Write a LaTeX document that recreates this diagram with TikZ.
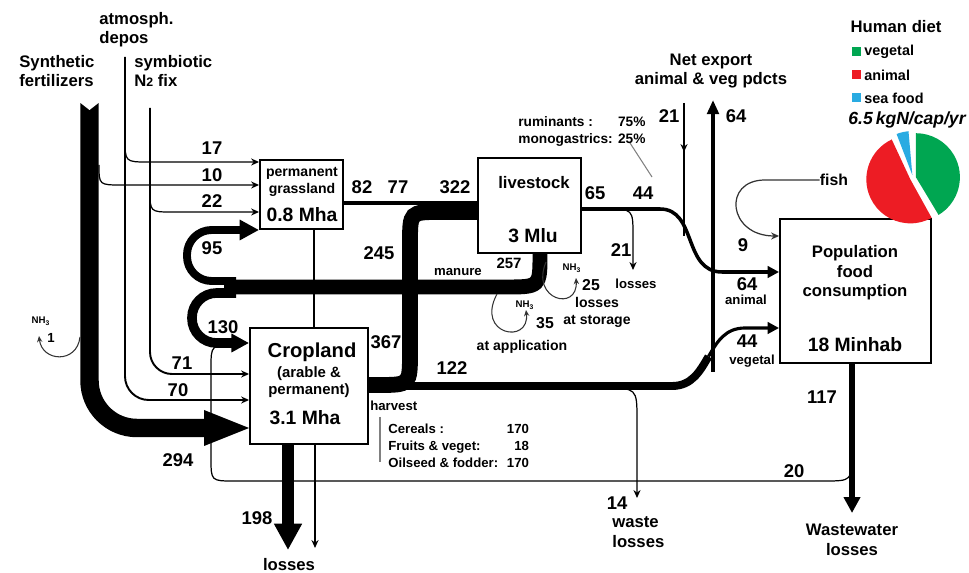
\documentclass[tikz,border=0pt]{standalone}
\usepackage{fontspec}
\setmainfont{Liberation Sans}
\usetikzlibrary{arrows.meta}
\definecolor{vegG}{RGB}{0,166,81}
\definecolor{animR}{RGB}{237,28,36}
\definecolor{seaB}{RGB}{41,171,226}
\begin{document}
\begin{tikzpicture}[x=0.02cm,y=-0.02cm]
\tikzset{
  lab/.style={font=\bfseries\fontsize{9.5}{11}\selectfont,inner sep=0pt,align=left},
  ctr/.style={lab,align=center},
  num/.style={font=\bfseries\fontsize{10.5}{12}\selectfont,inner sep=0pt},
  sml/.style={font=\bfseries\fontsize{7.5}{9.6}\selectfont,inner sep=0pt,align=center},
  tny/.style={font=\bfseries\fontsize{5.5}{6}\selectfont,inner sep=0pt},
  big/.style={font=\bfseries\fontsize{11}{13}\selectfont,inner sep=0pt},
  box/.style={draw,line width=1.1pt,fill=white,inner sep=0pt},
  fine/.style={line width=0.7pt},
  feed/.style={line width=1.1pt},
  loss/.style={line width=0.6pt,black!80,-{Stealth[length=3.5pt,width=3pt]}},
  tip/.style={-{Stealth[length=4.5pt,width=4pt]}},
  head/.style={-{Triangle[length=#1,width=#1]}}
}
\useasboundingbox (0,0) rectangle (969,573);

% boxes
\node[box,minimum width=1.66cm,minimum height=1.38cm] (grass) at (301.5,194.5) {};
\node[box,minimum width=2.36cm,minimum height=2.32cm] (crop) at (309,386) {};
\node[box,minimum width=2.06cm,minimum height=1.9cm] (stock) at (529.5,205.5) {};
\node[box,minimum width=3.02cm,minimum height=2.88cm] (pop) at (855.5,291) {};

\coordinate (synth) at (89.5,103);
\coordinate (atm) at (125,57);
\coordinate (sym) at (150,108);
\coordinate (exp) at (713,100);
\coordinate (imp) at (684,103);
\coordinate (pie) at (913,178);

% inputs
\draw[line width=10.5pt,rounded corners=27pt] (synth) -- (89.5,428) -- (208,428);
\fill[white] (78,101) -- (89.5,110) -- (101,101) -- cycle;
\fill (204,410) -- (crop.west |- 0,428) -- (204,446) -- cycle;
\draw[feed,tip,rounded corners=13.5pt] (atm) -- (125,400) -- (crop.west |- 0,400);
\draw[feed,tip,rounded corners=12.5pt] (sym) -- (150,374) -- (crop.west |- 0,374);
\draw[fine,tip] (125,138) .. controls (125,162) .. (148,162) -- (grass.west |- 0,162);
\draw[fine,tip] (99,165) .. controls (99,185) .. (122,185) -- (grass.west |- 0,185);
\draw[fine,tip] (150,190) .. controls (150,212) .. (172,212) -- (grass.west |- 0,212);
\draw[loss] (80,337) .. controls (77,364) and (42,362) .. (39,336);

% crops and grass
\draw[line width=1.3pt] (grass.south -| 314,0) -- (crop.north -| 314,0);
\draw[line width=1.2pt,tip] (crop.south -| 315,0) -- (315,548);
\draw[line width=6.8pt,head=15pt] (crop.south -| 288,0) -- (288,550);
\draw[line width=2.3pt] (grass.east |- 0,203) -- (stock.west |- 0,203);
\draw[line width=9pt] (crop.east |- 0,385) -- (378,385) .. controls (410,385) .. (410,352)
  -- (410,243) .. controls (410,212) .. (440,212) -- (stock.west |- 0,212);
\draw[line width=4.5pt] (crop.east |- 0,386) -- (672,386) .. controls (692,386) and (700,371) .. (708.5,356.5);
\draw[line width=1.8pt,head=6.5pt] (708.5,356.5) .. controls (717,342) and (725,328) .. (745,328) -- (pop.west |- 0,328);
\draw[fine,tip] (603,388) .. controls (637,388) .. (637,420) -- (637,498);

% manure
\draw[line width=8.5pt] (stock.south -| 540,0) .. controls (540,287) .. (505,287) -- (224,287);
\draw[line width=4.5pt,rounded corners=14pt,head=11pt] (236,281) -- (187,281) -- (187,230) -- (grass.west |- 0,230);
\draw[line width=5.5pt,rounded corners=14pt,head=10pt] (236,293) -- (192,293) -- (192,343) -- (crop.west |- 0,343);
\draw[loss] (546,262) .. controls (530,300) and (578,312) .. (576,278);
\draw[loss] (497,294) .. controls (475,335) and (530,345) .. (526,310);

% animal products and trade
\draw[line width=2pt,head=6.5pt] (stock.east |- 0,209) -- (660,209) .. controls (697,209) and (683,272) .. (722,272) -- (pop.west |- 0,272);
\draw[fine,tip] (606,209) .. controls (633,209) .. (633,236) -- (633,270);
\draw[line width=2.4pt,-{Triangle[length=8pt,width=6.5pt]}] (713,372) -- (exp);
\draw[feed,tip] (imp) -- (684,152);
\draw[feed] (684,150) -- (684,236);

% population
\draw[line width=3.4pt,head=9pt] (pop.south -| 852,0) -- (852,513);
\draw[line width=0.7pt] (852,452) .. controls (852,481) .. (824,481) -- (234,481)
  .. controls (211,481) .. (211,458) -- (211,368) .. controls (211,345) .. (236,345);
\node[font=\bfseries\fontsize{9}{10}\selectfont,inner sep=0pt] (fish) at (834,180) {fish};
\draw[fine,black!80,tip] (fish.west) -- (765,180) .. controls (722,180) and (728,236) .. (pop.west |- 0,236);
\draw[gray,line width=0.6pt] (630,143) -- (652,177);
\draw[gray,line width=0.8pt] (380,417) -- (380,462);

% box texts
\node[font=\bfseries\fontsize{8}{9.6}\selectfont,inner sep=0pt,align=center] (grassT) at (302,182) {permanent\\grassland};
\node[big] (grassA) at (302,215) {0.8 Mha};
\node[font=\bfseries\fontsize{11.5}{13}\selectfont,inner sep=0pt] (cropT) at (312,352) {Cropland};
\node[font=\bfseries\fontsize{8.5}{10}\selectfont,inner sep=0pt,align=center] (cropS) at (309,382) {(arable \&\\permanent)};
\node[big] (cropA) at (305,418) {3.1 Mha};
\node[lab] (stockT) at (534,183) {livestock};
\node[big] (stockA) at (533,236) {3 Mlu};
\node[ctr] (popT) at (855,273) {Population\\food\\consumption};
\node[big] (popA) at (855,345) {18 Minhab};

% sources and sinks
\node[lab,anchor=west] (atmT) at (99,30) {atmosph.\\depos};
\node[lab,anchor=west] (synT) at (19,71) {Synthetic\\fertilizers};
\node[lab,anchor=west] (symT) at (134,71) {symbiotic\\N{\fontsize{7}{7}\selectfont 2} fix};
\node[ctr] (netT) at (711,71) {Net export\\animal \& veg pdcts};
\node[lab] (lossT) at (289,565) {losses};
\node[lab,anchor=west] (wasteT) at (612,532) {waste\\losses};
\node[ctr] (wwT) at (852,540) {Wastewater\\losses};

% flow values
\foreach \t/\x/\y [count=\i] in {17/212/148,10/212/175,22/212/201,95/212/248,130/223/327,
  71/182/363,70/178/390,294/178/460,198/257/518,82/362/187,77/398/187,322/455/187,
  245/379/253,367/386/342,122/452/368,65/595/193,44/643/193,21/621/250,9/743/245,
  64/747/284,44/747/341,117/822/397,20/794/471,14/617/503,21/669/116,64/736/116}
  \node[num] (v\i) at (\x,\y) {\t};
\node[font=\bfseries\fontsize{8.5}{10}\selectfont,inner sep=0pt] (v257) at (509,263) {257};
\node[font=\bfseries\fontsize{9}{10}\selectfont,inner sep=0pt] (v25) at (591,285) {25};
\node[font=\bfseries\fontsize{9}{10}\selectfont,inner sep=0pt] (v35) at (545,323) {35};
\node[font=\bfseries\fontsize{7.5}{9}\selectfont,inner sep=0pt] (v1) at (51,338) {1};
\node[tny] (nh1) at (41,321) {NH\textsubscript{3}};
\node[tny] (nh2) at (572,268) {NH\textsubscript{3}};
\node[tny] (nh3) at (525,305) {NH\textsubscript{3}};

% small notes
\node[sml] (manT) at (458,272) {manure};
\node[sml] (los21) at (636,284) {losses};
\node[font=\bfseries\fontsize{8}{9.6}\selectfont,inner sep=0pt,align=center] (stoT) at (597,312) {losses\\at storage};
\node[font=\bfseries\fontsize{8}{9.6}\selectfont,inner sep=0pt] (appT) at (522,347) {at application};
\node[sml] (anT) at (746,300) {animal};
\node[sml] (veT) at (752,361) {vegetal};
\node[sml,anchor=west] (harvT) at (370,406) {harvest};
\node[anchor=west,font=\bfseries\fontsize{7.5}{9.9}\selectfont,inner sep=0pt] (harvTab) at (388,447)
  {\begin{tabular}{@{}l@{\hspace{5pt}}r@{}}Cereals :&170\\Fruits \& veget:&18\\Oilseed \& fodder:&170\end{tabular}};
\node[anchor=west,font=\bfseries\fontsize{7.8}{9.5}\selectfont,inner sep=0pt] (rumi) at (518,132)
  {\begin{tabular}{@{}l@{\hspace{3pt}}r@{}}ruminants :&75\%\\monogastrics:&25\%\end{tabular}};

% human diet
\node[lab] (diet) at (896,27) {Human diet};
\foreach \c/\t [count=\i] in {vegG/vegetal,animR/animal,seaB/sea food}{
  \fill[\c] (852,{47.5+23*(\i-1)}) rectangle ++(9,9);
  \node[font=\bfseries\fontsize{8.2}{9}\selectfont,inner sep=0pt,anchor=west] (leg\i) at (864,{52+23*(\i-1)}) {\t};
}
\node[font=\bfseries\itshape\fontsize{10}{12}\selectfont,inner sep=0pt] (rate) at (907,120) {6.5\,kgN/cap/yr};
\foreach \c/\s/\e in {vegG/59/-90,seaB/-95/-111,animR/-115/-299}{
  \pgfmathsetmacro{\m}{(\s+\e)/2}
  \fill[\c] ([shift={(\m:3)}]pie) -- ++(\s:44) arc[start angle=\s,end angle=\e,radius=44] -- cycle;
}
\end{tikzpicture}
\end{document}
